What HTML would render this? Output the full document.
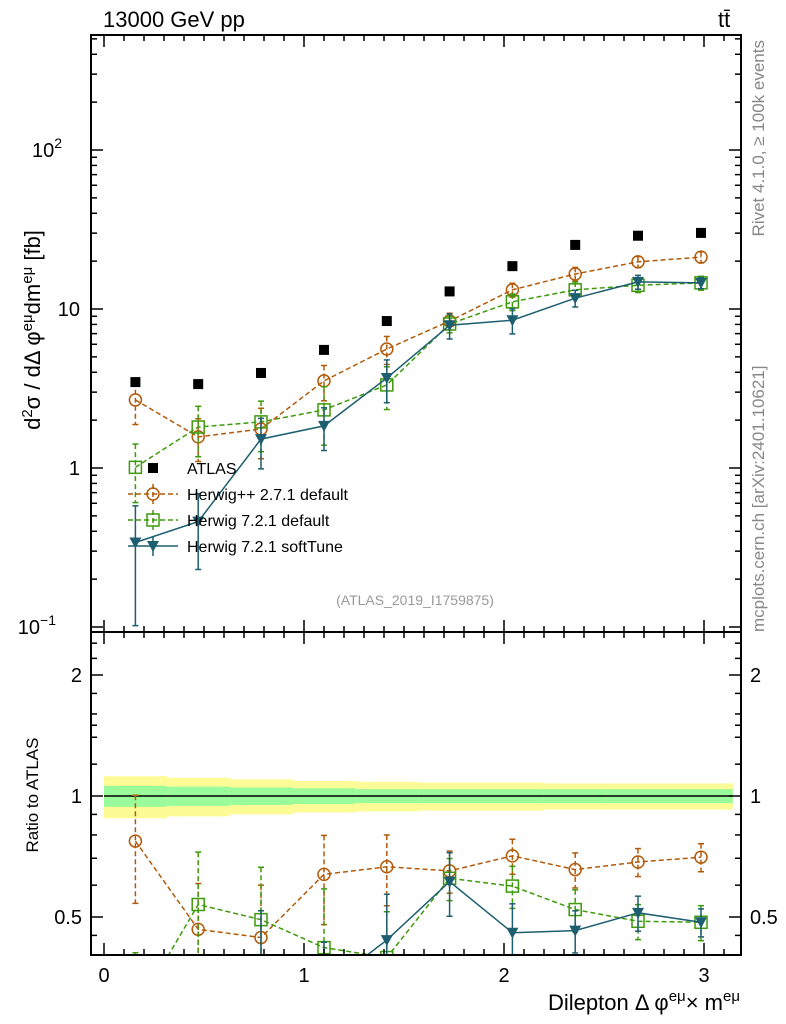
<!DOCTYPE html>
<html><head><meta charset="utf-8"><style>
html,body{margin:0;padding:0;background:#fff;overflow:hidden;width:786px;height:1024px;}
svg{display:block;font-family:"Liberation Sans",sans-serif;}
</style></head><body>
<svg id="c" width="786" height="1024" viewBox="0 0 786 1024" xmlns="http://www.w3.org/2000/svg"></svg>
<script>
const xCenters=[0.157,0.471,0.785,1.100,1.414,1.728,2.042,2.356,2.670,2.985];
const atlas=[3.47,3.37,3.96,5.53,8.4,12.9,18.6,25.3,28.9,30.1];
const hwpp=[2.68,1.57,1.76,3.53,5.6,8.4,13.2,16.6,19.8,21.2];
const hw72=[1.01,1.81,1.95,2.32,3.33,8.05,11.1,13.2,14.1,14.6];
const hwsoft=[0.34,0.46,1.52,1.84,3.68,7.9,8.5,11.7,14.8,14.6];
const errPP=[0.3,0.3,0.35,0.25,0.2,0.12,0.1,0.1,0.08,0.08];
const err72=[0.4,0.35,0.35,0.4,0.3,0.12,0.12,0.12,0.1,0.1];
const errSoft=[0.7,0.5,0.35,0.3,0.3,0.18,0.18,0.12,0.1,0.08];
const bandYellow=[0.12,0.11,0.10,0.09,0.085,0.08,0.08,0.075,0.075,0.075];
const bandGreen=[0.06,0.055,0.05,0.045,0.04,0.04,0.04,0.04,0.04,0.04];
const xTicks=[0,1,2,3];
const yTicks=[0.1,1,10,100];
const rTicks=[0.5,1,2];

const S=document.getElementById('c');const NS='http://www.w3.org/2000/svg';
function el(t,a,p){const e=document.createElementNS(NS,t);for(const k in a)e.setAttribute(k,a[k]);(p||S).appendChild(e);return e;}
const L=91,R=741,T=35,MB=632,RB=955;
const xs=v=>104+200*v;
const ys=v=>468-159*Math.log10(v);
const rs=v=>796-121*Math.log2(v);
const defs=el('defs',{});
const cp1=el('clipPath',{id:'cm'},defs);el('rect',{x:L,y:T,width:R-L,height:MB-T},cp1);
const cp2=el('clipPath',{id:'cr'},defs);el('rect',{x:L,y:MB,width:R-L,height:RB-MB},cp2);
function txt(s,a,name){const t=el('text',a);t.textContent=s;return t;}

const gB=el('g',{'clip-path':'url(#cr)'});

const bw=Math.PI/10;
for(let i=0;i<10;i++){
  const x0=xs(i*bw),x1=xs((i+1)*bw);
  const ry=el('rect',{x:x0,y:rs(1+bandYellow[i]),width:x1-x0+0.5,height:rs(1-bandYellow[i])-rs(1+bandYellow[i]),fill:'#fdfb95'},gB);
  
  const rg=el('rect',{x:x0,y:rs(1+bandGreen[i]),width:x1-x0+0.5,height:rs(1-bandGreen[i])-rs(1+bandGreen[i]),fill:'#99fb99'},gB);
  
}
el('line',{x1:xs(0),x2:xs(Math.PI),y1:rs(1),y2:rs(1),stroke:'#000','stroke-width':1.5},gB);

const series=[
 {name:'herwigpp',vals:hwpp,err:errPP,col:'#b35a0a',dash:'5,3',mark:'circle'},
 {name:'herwig721',vals:hw72,err:err72,col:'#3d9a0b',dash:'5,3',mark:'square'},
 {name:'herwig721-softtune',vals:hwsoft,err:errSoft,col:'#1d5e70',dash:'',mark:'tri'}
];
function marker(g,m,x,y,col){
  if(m==='circle')el('circle',{cx:x,cy:y,r:6,fill:'none',stroke:col,'stroke-width':1.5},g);
  else if(m==='square')el('rect',{x:x-6,y:y-6,width:12,height:12,fill:'none',stroke:col,'stroke-width':1.5},g);
  else el('polygon',{points:`${x-6},${y-5} ${x+6},${y-5} ${x},${y+6}`,fill:col},g);
}
function drawSeries(s,panel){
  const g=el('g',{'clip-path':panel==='main'?'url(#cm)':'url(#cr)'});
  
  const fy=panel==='main'?(i)=>ys(s.vals[i]):(i)=>rs(s.vals[i]/atlas[i]);
  const fye=panel==='main'?(i,f)=>ys(s.vals[i]*f):(i,f)=>rs(s.vals[i]*f/atlas[i]);
  let pts=xCenters.map((x,i)=>xs(x)+','+fy(i)).join(' ');
  el('polyline',{points:pts,fill:'none',stroke:s.col,'stroke-width':1.5,'stroke-dasharray':s.dash},g);
  xCenters.forEach((x,i)=>{
    const X=xs(x),y1=fye(i,1+s.err[i]),y2=fye(i,Math.max(0.02,1-s.err[i]));
    el('line',{x1:X,x2:X,y1:y1,y2:y2,stroke:s.col,'stroke-width':1.5,'stroke-dasharray':s.dash},g);
    el('line',{x1:X-3,x2:X+3,y1:y1,y2:y1,stroke:s.col,'stroke-width':1.5},g);
    el('line',{x1:X-3,x2:X+3,y1:y2,y2:y2,stroke:s.col,'stroke-width':1.5},g);
    marker(g,s.mark,X,fy(i),s.col);
  });
}
series.forEach(s=>{drawSeries(s,'main');drawSeries(s,'ratio');});
const gA=el('g',{'clip-path':'url(#cm)'});

xCenters.forEach((x,i)=>{const r=el('rect',{x:xs(x)-5,y:ys(atlas[i])-5,width:10,height:10,fill:'#000'},gA);
 });

const f1=el('rect',{x:L,y:T,width:R-L,height:MB-T,fill:'none',stroke:'#000','stroke-width':2});

const f2=el('rect',{x:L,y:MB,width:R-L,height:RB-MB,fill:'none',stroke:'#000','stroke-width':2});


const gt=el('g',{stroke:'#000','stroke-width':1.5});

for(let k=0;k<=31;k++){const v=k/10,X=xs(v);const big=k%10===0;const l=big?12:6;
  [[T,1],[MB,-1],[MB,1],[RB,-1]].forEach(([y,d])=>el('line',{x1:X,x2:X,y1:y,y2:y+d*l},gt));}
for(let e=-2;e<=2;e++)for(let m=1;m<=9;m++){const v=m*Math.pow(10,e);const Y=ys(v);if(Y<T||Y>MB)continue;const l=m===1?12:6;
  el('line',{x1:L,x2:L+l,y1:Y,y2:Y},gt);el('line',{x1:R,x2:R-l,y1:Y,y2:Y},gt);}
[0.5,0.6,0.7,0.8,0.9,1,1.5,2].forEach(v=>{const Y=rs(v);const l=rTicks.includes(v)?12:6;
  el('line',{x1:L,x2:L+l,y1:Y,y2:Y},gt);el('line',{x1:R,x2:R-l,y1:Y,y2:Y},gt);});
[0.4,0.45,1.2,1.4,1.6,1.8,2.2,2.4].forEach(v=>{const Y=rs(v);if(Y<MB||Y>RB)return;
  el('line',{x1:L,x2:L+6,y1:Y,y2:Y},gt);el('line',{x1:R,x2:R-6,y1:Y,y2:Y},gt);});

xTicks.forEach(v=>txt(String(v),{x:xs(v),y:982,'font-size':20,'text-anchor':'middle'},'x-tick-label'));
const yl={0.1:'10',1:'1',10:'10',100:'10'};
yTicks.forEach(v=>{const t=txt(yl[v],{x:80,y:ys(v)+7,'font-size':20,'text-anchor':'end'},'y-tick-label');
  if(v===100||v===0.1){t.setAttribute('x',v===100?62:56);const s=el('tspan',{dy:-9,'font-size':14},t);s.textContent=v===100?'2':'−1';}});
rTicks.forEach(v=>{const lab=String(v);
  txt(lab,{x:82,y:rs(v)+7,'font-size':20,'text-anchor':'end'},'ratio-tick-label-left');
  txt(lab,{x:750,y:rs(v)+7,'font-size':20},'ratio-tick-label-right');});

txt('13000 GeV pp',{x:103,y:27,'font-size':22},'plot-title-energy');
txt('tt̄',{x:718,y:27,'font-size':22},'plot-title-process');
const ya=txt('',{transform:'translate(40,330) rotate(-90)','font-size':22,'text-anchor':'middle'},'y-axis-title');
ya.innerHTML='d<tspan dy="-8" font-size="15">2</tspan><tspan dy="8">σ / dΔ φ</tspan><tspan dy="-8" font-size="15">eμ</tspan><tspan dy="8">dm</tspan><tspan dy="-8" font-size="15">eμ</tspan><tspan dy="8"> [fb]</tspan>';
txt('Ratio to ATLAS',{transform:'translate(38,795) rotate(-90)','font-size':17,'text-anchor':'middle'},'ratio-axis-title');
const xa=txt('',{x:740,y:1010,'font-size':22,'text-anchor':'end'},'x-axis-title');
xa.innerHTML='Dilepton Δ φ<tspan dy="-9" font-size="15">eμ</tspan><tspan dy="9">× m</tspan><tspan dy="-9" font-size="15">eμ</tspan>';
txt('Rivet 4.1.0, ≥ 100k events',{transform:'translate(764,40) rotate(-90)','font-size':17,fill:'#888','text-anchor':'end'},'rivet-version-label');
txt('mcplots.cern.ch [arXiv:2401.10621]',{transform:'translate(764,632) rotate(-90)','font-size':17,fill:'#888'},'mcplots-label');
txt('(ATLAS_2019_I1759875)',{x:415,y:605,'font-size':14,fill:'#999','text-anchor':'middle'},'analysis-id-label');

const lg=el('g',{});
const legs=[['ATLAS',null],['Herwig++ 2.7.1 default',series[0]],['Herwig 7.2.1 default',series[1]],['Herwig 7.2.1 softTune',series[2]]];
legs.forEach(([n,s],i)=>{const y=468+26*i;const g=el('g',{},lg);
  
  if(!s){el('rect',{x:148,y:y-5,width:10,height:10,fill:'#000'},g);}
  else{el('line',{x1:128,x2:178,y1:y,y2:y,stroke:s.col,'stroke-width':1.5,'stroke-dasharray':s.dash},g);
    el('line',{x1:153,x2:153,y1:y-10,y2:y+10,stroke:s.col,'stroke-width':1.5,'stroke-dasharray':s.dash},g);
    marker(g,s.mark,153,y,s.col);}
  const t=el('text',{x:187,y:y+6,'font-size':16},g);t.textContent=n;
});
</script>
</body></html>
